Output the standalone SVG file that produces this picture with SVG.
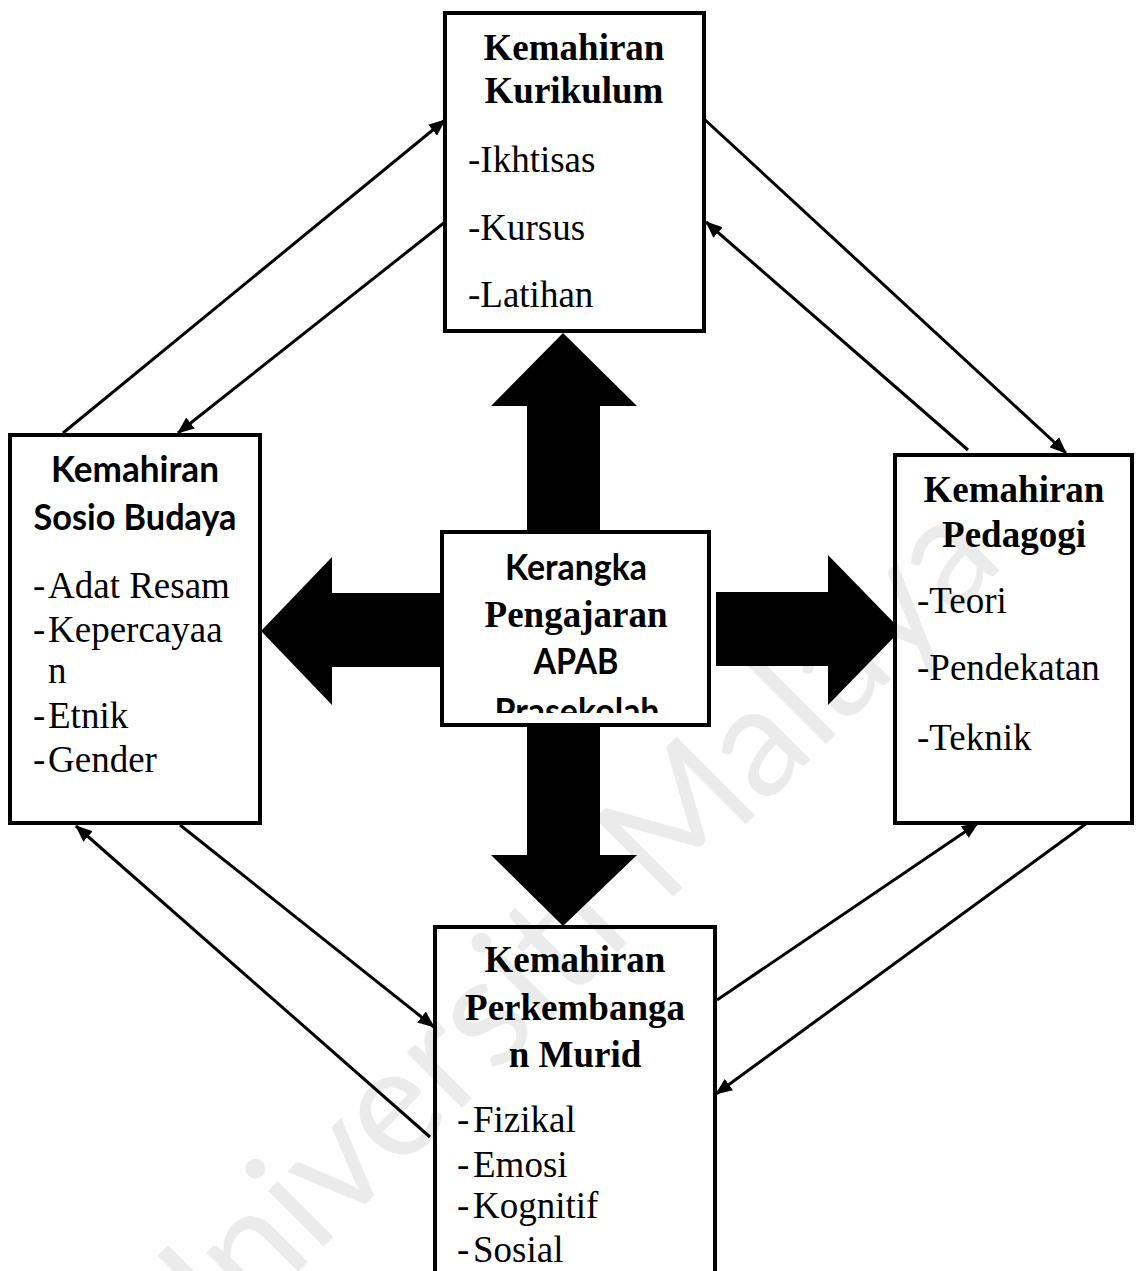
<svg xmlns="http://www.w3.org/2000/svg" width="1136" height="1271" viewBox="0 0 1136 1271">
<style>
.box{fill:#fff;stroke:#000;stroke-width:4}
.serif{font-family:"Liberation Serif","Times New Roman",serif;font-size:37px;fill:#000}
.sb{font-family:"Liberation Serif","Times New Roman",serif;font-size:37px;font-weight:bold;fill:#000}
.sans{font-family:Lato,"Open Sans",sans-serif;font-size:36px;font-weight:bold;fill:#000}
.mid{text-anchor:middle}
.con{stroke:#000;stroke-width:3;fill:none;marker-end:url(#ah)}
.big{fill:#000}
.wm{font-family:Lato,"Open Sans",sans-serif;font-size:155px;fill:#000;fill-opacity:0.08}
</style>
<defs>
<marker id="ah" markerWidth="18" markerHeight="14" refX="16" refY="7" orient="auto" markerUnits="userSpaceOnUse">
<path d="M0,0 L17,7 L0,14 z" fill="#000"/>
</marker>
<clipPath id="cclip"><rect x="444" y="534" width="263" height="179"/></clipPath>
</defs>
<rect width="1136" height="1271" fill="#fff"/>
<g id="big-arrows">
<polygon class="big" points="563,333 637,406 600,406 600,540 527,540 527,406 491,406"/>
<polygon class="big" points="527,715 600,715 600,855 637,855 563,926 491,855 527,855"/>
<polygon class="big" points="261,631 332,557 332,593 446,593 446,667 332,667 332,705"/>
<polygon class="big" points="716,592 828,592 828,555 901,630 828,705 828,666 716,666"/>
</g>
<g id="node-kurikulum">
<rect class="box" x="445" y="13" width="259" height="318"/>
<text class="sb mid" x="574" y="60">Kemahiran</text>
<text class="sb mid" x="574" y="103">Kurikulum</text>
<text class="serif" x="468" y="172">-Ikhtisas</text>
<text class="serif" x="468" y="240">-Kursus</text>
<text class="serif" x="468" y="307">-Latihan</text>
</g>
<g id="node-sosio">
<rect class="box" x="10" y="435" width="250" height="388"/>
<text class="sans mid" x="135" y="482" textLength="168" lengthAdjust="spacingAndGlyphs">Kemahiran</text>
<text class="sans mid" x="135" y="530" textLength="203" lengthAdjust="spacingAndGlyphs">Sosio Budaya</text>
<text class="serif" x="33" y="598">-</text><text class="serif" x="48" y="598">Adat Resam</text>
<text class="serif" x="33" y="642">-</text><text class="serif" x="48" y="642">Kepercayaa</text>
<text class="serif" x="48" y="683">n</text>
<text class="serif" x="33" y="728">-</text><text class="serif" x="48" y="728">Etnik</text>
<text class="serif" x="33" y="772">-</text><text class="serif" x="48" y="772">Gender</text>
</g>
<g id="node-center">
<rect class="box" x="442" y="532" width="267" height="193"/>
<g clip-path="url(#cclip)">
<text class="sans mid" x="576" y="580" textLength="142" lengthAdjust="spacingAndGlyphs">Kerangka</text>
<text class="sb mid" x="576" y="627">Pengajaran</text>
<text class="sans mid" x="576" y="674" textLength="85" lengthAdjust="spacingAndGlyphs">APAB</text>
<text class="sans mid" x="577" y="724" textLength="165" lengthAdjust="spacingAndGlyphs">Prasekolah</text>
</g>
</g>
<g id="node-pedagogi">
<rect class="box" x="895" y="455" width="237" height="368"/>
<text class="sb mid" x="1014" y="502">Kemahiran</text>
<text class="sb mid" x="1014" y="547">Pedagogi</text>
<text class="serif" x="917" y="613">-Teori</text>
<text class="serif" x="917" y="680">-Pendekatan</text>
<text class="serif" x="917" y="750">-Teknik</text>
</g>
<g id="node-perkembangan">
<rect class="box" x="435" y="927" width="280" height="400"/>
<text class="sb mid" x="575" y="972">Kemahiran</text>
<text class="sb mid" x="575" y="1020">Perkembanga</text>
<text class="sb mid" x="575" y="1067">n Murid</text>
<text class="serif" x="457" y="1132">-</text><text class="serif" x="473" y="1132">Fizikal</text>
<text class="serif" x="457" y="1177">-</text><text class="serif" x="473" y="1177">Emosi</text>
<text class="serif" x="457" y="1218">-</text><text class="serif" x="473" y="1218">Kognitif</text>
<text class="serif" x="457" y="1262">-</text><text class="serif" x="473" y="1262">Sosial</text>
</g>
<g id="connectors">
<line class="con" x1="63" y1="433" x2="445" y2="120"/>
<line class="con" x1="445" y1="222" x2="178" y2="433"/>
<line class="con" x1="703" y1="118" x2="1066" y2="453"/>
<line class="con" x1="968" y1="450" x2="706" y2="222"/>
<line class="con" x1="180" y1="825" x2="434" y2="1027"/>
<line class="con" x1="430" y1="1137" x2="76" y2="826"/>
<line class="con" x1="717" y1="1000" x2="978" y2="823"/>
<line class="con" x1="1087" y1="823" x2="716" y2="1094"/>
</g>
<text class="wm" transform="translate(175,1395) rotate(-45)">Universiti Malaya</text>
</svg>
